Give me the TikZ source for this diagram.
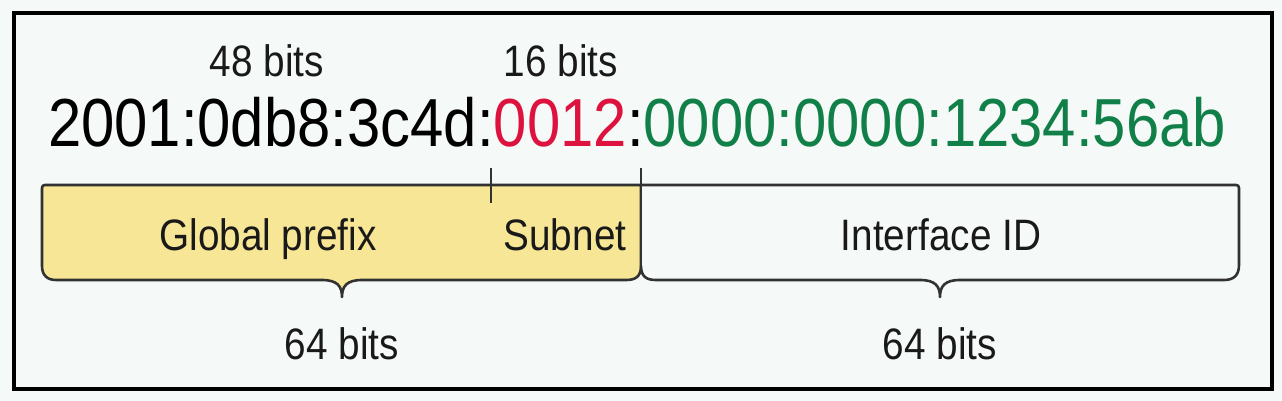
\documentclass[tikz,border=0pt]{standalone}
\usepackage{fontspec}
\setmainfont[FakeStretch=0.88]{Liberation Sans}
\definecolor{bgc}{RGB}{245,249,247}
\definecolor{yel}{RGB}{246,230,150}
\definecolor{addrred}{RGB}{222,18,62}
\definecolor{addrgreen}{RGB}{16,128,72}
\definecolor{edge}{RGB}{50,50,50}
\begin{document}
\begin{tikzpicture}[x=0.5pt,y=-0.5pt,
  lbl/.style={inner sep=0pt,anchor=base,font=\fontsize{22pt}{26pt}\selectfont,text=black!90},
  addr/.style={inner sep=0pt,anchor=base,font=\fontsize{34pt}{40pt}\selectfont},
  edgeline/.style={draw=edge,line width=1.3pt,line join=round},
  frame/.style={draw=black,line width=2pt}]
\useasboundingbox (0,0) rectangle (1282,401);
\fill[bgc] (0,0) rectangle (1282,401);
\draw[frame] (14,13) rectangle (1272,389);

% yellow box (global prefix + subnet)
\path[fill=yel,edgeline] (42,188) .. controls (42,186) and (43,185) .. (45,185) -- (641,185) -- (641,266)
  .. controls (641,277) and (635,280) .. (626,280) -- (362,280)
  .. controls (347,280) and (342,286) .. (342,297)
  .. controls (342,286) and (337,280) .. (322,280) -- (56,280)
  .. controls (47,280) and (42,275) .. (42,266) -- cycle;
% white box (interface id)
\path[fill=bgc,edgeline] (641,185) -- (1236,185) .. controls (1238,185) and (1239,186) .. (1239,188) -- (1239,265)
  .. controls (1239,275) and (1234,280) .. (1224,280) -- (960,280)
  .. controls (945,280) and (940,286) .. (940,297)
  .. controls (940,286) and (935,280) .. (920,280) -- (656,280)
  .. controls (647,280) and (641,277) .. (641,266);

% tick marks
\coordinate (t1a) at (491,168);
\coordinate (t1b) at (491,203);
\coordinate (t2a) at (641,168);
\coordinate (t2b) at (641,266);
\draw[edgeline] (t1a) -- (t1b);
\draw[edgeline] (t2a) -- (t2b);

% texts
\node[lbl] (b48) at (267,77) {48 bits};
\node[lbl] (b16) at (561,77) {16 bits};
\node[addr] (address) at (637,147) {2001:0db8:3c4d:\textcolor{addrred}{0012}:\textcolor{addrgreen}{0000:0000:1234:56ab}};
\node[lbl] (gp) at (268,250) {Global prefix};
\node[lbl] (sn) at (565,250) {Subnet};
\node[lbl] (iid) at (941,250) {Interface ID};
\node[lbl] (b64a) at (342,359) {64 bits};
\node[lbl] (b64b) at (940,359) {64 bits};
\end{tikzpicture}
\end{document}
